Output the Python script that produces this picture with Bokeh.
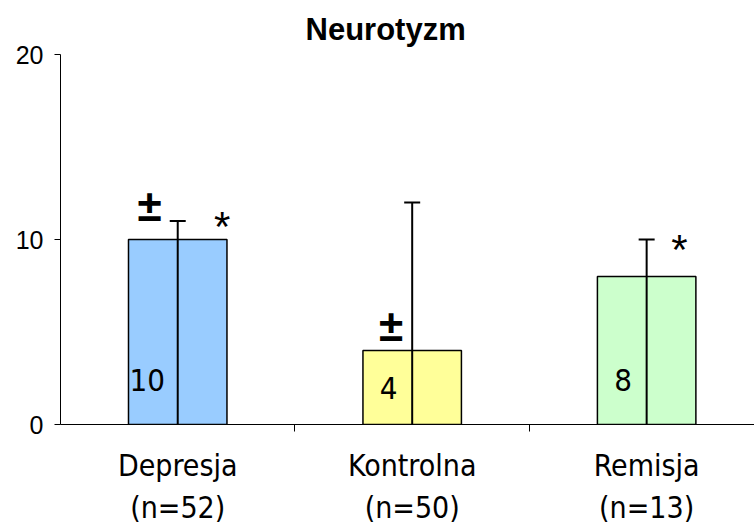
from bokeh.plotting import figure
from bokeh.models import Range1d, FixedTicker, ColumnDataSource
from bokeh.core.properties import value
from bokeh.embed import file_html
from bokeh.resources import INLINE

# ---- data ----
categories = ["Depresja", "Kontrolna", "Remisja"]
group_sizes = ["(n=52)", "(n=50)", "(n=13)"]
means = [10, 4, 8]
upper = [11, 12, 10]
bar_colors = ["#99CCFF", "#FFFF99", "#CCFFCC"]
y_ticks = [0, 10, 20]
plus_minus_groups = ["Depresja", "Kontrolna"]
star_groups = ["Depresja", "Remisja"]

xs = list(range(len(categories)))
idx = {c: i for i, c in enumerate(categories)}

p = figure(frame_width=694, frame_height=370, output_backend="svg", toolbar_location=None,
           x_range=Range1d(-0.5, 2.46), y_range=Range1d(0, 20),
           min_border_left=60, min_border_right=0, min_border_top=54,
           min_border_bottom=101, title="Neurotyzm")
p.outline_line_color = None
p.xgrid.grid_line_color = None
p.ygrid.grid_line_color = None
p.background_fill_color = "white"

p.title.align = "left"
p.title.offset = 245
p.title.text_font = "Liberation Sans"
p.title.text_font_size = "31px"
p.title.text_font_style = "bold"
p.title.text_color = "black"
p.title.standoff = 15

src = ColumnDataSource(dict(x=xs, top=means, up=upper, color=bar_colors))

p.vbar(x="x", top="top", width=0.42, fill_color="color", line_color="black",
       line_width=1.5, source=src)
# error bars from base to upper
p.segment(x0="x", y0=0, x1="x", y1="up", line_color="black", line_width=2, source=src)
p.scatter(x="x", y="up", marker="dash", size=16, line_color="black", line_width=2, source=src)

# value labels inside bars
label_dx = [-0.13, -0.10, -0.10]
label_y = [2.4, 2.0, 2.4]
p.text(x=[x + d for x, d in zip(xs, label_dx)], y=label_y, text=[str(m) for m in means],
       text_font=value("DejaVu Sans Condensed"), text_font_size="31px",
       text_align="center", text_baseline="middle", text_color="black")

# significance markers
pm_x = [idx[c] + dx for c, dx in zip(plus_minus_groups, [-0.12, -0.09])]
pm_y = [means[idx[c]] + dy for c, dy in zip(plus_minus_groups, [1.84, 1.35])]
p.text(x=pm_x, y=pm_y, text=["±"] * len(pm_x), text_font=value("Liberation Sans"),
       text_font_size="44px", text_font_style="bold", text_align="center",
       text_baseline="middle", text_color="black")

st_x = [idx[c] + dx for c, dx in zip(star_groups, [0.19, 0.14])]
st_y = [means[idx[c]] + dy for c, dy in zip(star_groups, [1.0, 1.73])]
p.text(x=st_x, y=st_y, text=["*"] * len(st_x), text_font=value("Liberation Sans"),
       text_font_size="42px", text_align="center", text_baseline="middle",
       text_color="black", y_offset=5)

# axes
p.yaxis.ticker = FixedTicker(ticks=y_ticks)
p.yaxis.minor_tick_line_color = None
p.yaxis.major_tick_out = 6
p.yaxis.major_tick_in = 0
p.yaxis.major_label_standoff = 11
p.yaxis.major_label_text_font = "Liberation Sans"
p.yaxis.major_label_text_font_size = "25px"
p.yaxis.major_label_text_color = "black"
p.yaxis.axis_line_color = "black"

p.xaxis.ticker = FixedTicker(ticks=xs, minor_ticks=[x + 0.5 for x in xs])
p.xaxis.major_tick_line_color = None
p.xaxis.minor_tick_out = 7
p.xaxis.minor_tick_in = 0
p.xaxis.major_label_overrides = {i: f"{c}\n{n}" for i, c, n in zip(xs, categories, group_sizes)}
p.xaxis.major_label_text_font = "DejaVu Sans Condensed"
p.xaxis.major_label_text_font_size = "30px"
p.xaxis.major_label_text_line_height = 1.2
p.xaxis.major_label_text_color = "black"
p.xaxis.major_label_standoff = 16
p.xaxis.axis_line_color = "black"

open("out.html", "w").write(file_html(p, INLINE))
